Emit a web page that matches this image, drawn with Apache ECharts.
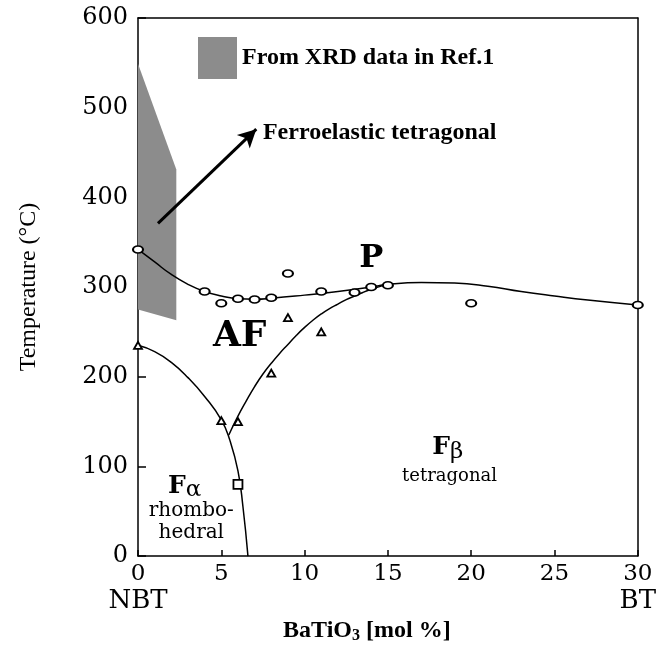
<!DOCTYPE html>
<html>
<head>
<meta charset="utf-8">
<script src="https://cdn.jsdelivr.net/npm/echarts@6/dist/echarts.min.js"></script>
<style>
  html, body { margin: 0; padding: 0; background: #fff; }
  #main { width: 659px; height: 649px; }
</style>
</head>
<body>
<div id="main"></div>
<script>
// ---- data ----
const xTicks = [0, 5, 10, 15, 20, 25, 30];
const endNames = { 0: 'NBT', 30: 'BT' };

// measured transition points
const circles = [[0, 342], [4, 295], [5, 282], [6, 287], [7, 286], [8, 288], [9, 315],
  [11, 295], [13, 294], [14, 300], [15, 302], [20, 282], [30, 280]];
const triangles = [[0, 235], [5, 151], [6, 150], [8, 204], [9, 266], [11, 250]];
const squares = [[6, 80]];

// phase boundaries (hand drawn curves)
const curveP = [[0, 342], [1, 328], [2, 314], [3, 303], [4, 295], [5, 290], [6, 287], [7, 286.5],
  [8, 287.5], [10, 291], [12, 295], [14, 300], [15, 303], [17, 305], [19, 304.5], [21, 301],
  [23, 295], [25, 290], [27, 285.5], [30, 280]];
const curveAF = [[5.45, 135], [6, 156], [6.5, 173], [7, 189], [7.5, 203], [8, 215], [8.5, 226],
  [9, 236], [9.5, 246], [10, 255], [10.5, 263], [11, 270], [11.5, 276], [12, 281], [12.5, 286],
  [13, 290], [13.5, 294], [14, 297.5], [14.5, 300.5], [15, 303]];
const curveFa = [[0, 235], [1, 228], [2, 216], [3, 199], [4, 178], [5, 152], [5.5, 130],
  [6, 95], [6.3, 55], [6.6, 0]];

// XRD region (Ref.1)
const xrdRegion = [[0, 549], [2.3, 431], [2.3, 263], [0, 275]];

// arrow + region names
const arrowLine = [[1.2, 371], [7.1, 476]];
const regionLabels = [
  [14, 332, 'P'],
  [6.1, 245, 'AF'],
  [2.8, 78, 'F{g|α}'],
  [3.2, 50, 'rhombo-'],
  [3.2, 26, 'hedral'],
  [18.6, 121, 'F{g|β}'],
  [18.7, 89, 'tetragonal'],
  [7.5, 472, 'Ferroelastic tetragonal']
];

const serif = 'DejaVu Serif';
const times = 'Liberation Serif';
const ink = '#000';
const greek = { fontSize: 23, fontWeight: 'normal', color: ink, fontFamily: serif, padding: [8, 0, 0, 0] };
const labelStyles = {
  'P': { fontSize: 32, fontWeight: 'bold', fontFamily: serif },
  'AF': { fontSize: 36, fontWeight: 'bold', fontFamily: serif },
  'F{g|α}': { fontSize: 25, fontWeight: 'bold', fontFamily: serif, rich: { g: greek } },
  'F{g|β}': { fontSize: 25, fontWeight: 'bold', fontFamily: serif, rich: { g: greek } },
  'rhombo-': { fontSize: 20, fontFamily: serif },
  'hedral': { fontSize: 20, fontFamily: serif },
  'tetragonal': { fontSize: 18, fontFamily: serif },
  'Ferroelastic tetragonal': { fontSize: 24, fontWeight: 'bold', fontFamily: times, align: 'left' }
};

var myChart = echarts.init(document.getElementById('main'));

const curveSeries = (d) => ({
  type: 'line', data: d, smooth: true, showSymbol: false, silent: true,
  lineStyle: { color: ink, width: 1.5 }, z: 3
});
const pointSeries = (d, symbol, size) => ({
  type: 'scatter', data: d, symbol: symbol, symbolSize: size, clip: false, silent: true,
  itemStyle: { color: '#fff', borderColor: ink, borderWidth: 1.8, opacity: 1 }, z: 4
});
const frameAxis = (extra) => Object.assign({
  type: 'value',
  axisLine: { show: true, onZero: false, lineStyle: { color: ink, width: 1.5 } },
  axisTick: { show: false }, axisLabel: { show: false }, splitLine: { show: false }
}, extra);

myChart.setOption({
  animation: false,
  grid: { left: 138, right: 19, top: 18, bottom: 75 },
  legend: {
    left: 193, top: 32, icon: 'rect', itemWidth: 39, itemHeight: 42,
    selectedMode: false,
    data: ['From XRD data in Ref.1'],
    textStyle: { fontSize: 24, fontWeight: 'bold', fontFamily: times, color: ink }
  },
  xAxis: [{
    type: 'value', min: 0, max: 30, interval: 5,
    name: 'BaTiO{s|3} [mol %]', nameLocation: 'middle', nameGap: 44,
    nameTextStyle: {
      fontSize: 24, fontWeight: 'bold', fontFamily: times, color: ink, padding: [0, 42, 0, 0],
      rich: { s: { fontSize: 16, fontWeight: 'bold', fontFamily: times, color: ink, padding: [10, 0, 0, 0] } }
    },
    axisLine: { onZero: false, lineStyle: { color: ink, width: 1.5 } },
    axisTick: { inside: true, length: 6, lineStyle: { color: ink, width: 1.5 } },
    splitLine: { show: false },
    axisLabel: {
      margin: 5, color: ink,
      formatter: (v) => endNames[v] ? '{v|' + v + '}\n{n|' + endNames[v] + '}' : '{v|' + v + '}',
      rich: {
        v: { fontSize: 23, fontFamily: serif, color: ink, lineHeight: 26 },
        n: { fontSize: 26, fontFamily: serif, color: ink, lineHeight: 28 }
      }
    }
  }, frameAxis({ min: 0, max: 30, position: 'top' })],
  yAxis: [{
    type: 'value', min: 0, max: 600, interval: 100,
    name: 'Temperature (°C)', nameLocation: 'middle', nameGap: 97,
    nameTextStyle: { fontSize: 24, fontFamily: times, color: ink },
    axisLine: { show: true, onZero: false, lineStyle: { color: ink, width: 1.5 } },
    axisTick: { show: true, inside: true, length: 8, lineStyle: { color: ink, width: 1.5 } },
    splitLine: { show: false },
    axisLabel: { margin: 10, fontSize: 24, fontFamily: serif, color: ink }
  }, frameAxis({ min: 0, max: 600, position: 'right' })],
  series: [
    {
      name: 'From XRD data in Ref.1',
      type: 'custom', silent: true, z: 1,
      itemStyle: { color: '#8c8c8c' },
      data: xrdRegion,
      renderItem: (params, api) => {
        if (params.dataIndex !== 0) return null;
        return {
          type: 'polygon',
          shape: { points: xrdRegion.map(p => api.coord(p)) },
          style: { fill: '#8c8c8c' }
        };
      }
    },
    curveSeries(curveP),
    curveSeries(curveAF),
    curveSeries(curveFa),
    pointSeries(circles, 'circle', [10, 7]),
    pointSeries(triangles, 'triangle', [8, 7]),
    pointSeries(squares, 'rect', [9, 9]),
    {
      type: 'scatter', silent: true, symbolSize: 0, z: 5,
      itemStyle: { opacity: 1 },
      data: regionLabels.map(r => ({
        value: [r[0], r[1]],
        label: Object.assign({ show: true, position: 'inside', color: ink, formatter: r[2] }, labelStyles[r[2]])
      })),
      markLine: {
        silent: true, symbol: ['none', 'arrow'], symbolSize: [14, 18],
        lineStyle: { color: ink, width: 3, type: 'solid', opacity: 1 },
        label: { show: false },
        data: [[{ coord: arrowLine[0] }, { coord: arrowLine[1] }]]
      }
    }
  ]
});
</script>
</body>
</html>
